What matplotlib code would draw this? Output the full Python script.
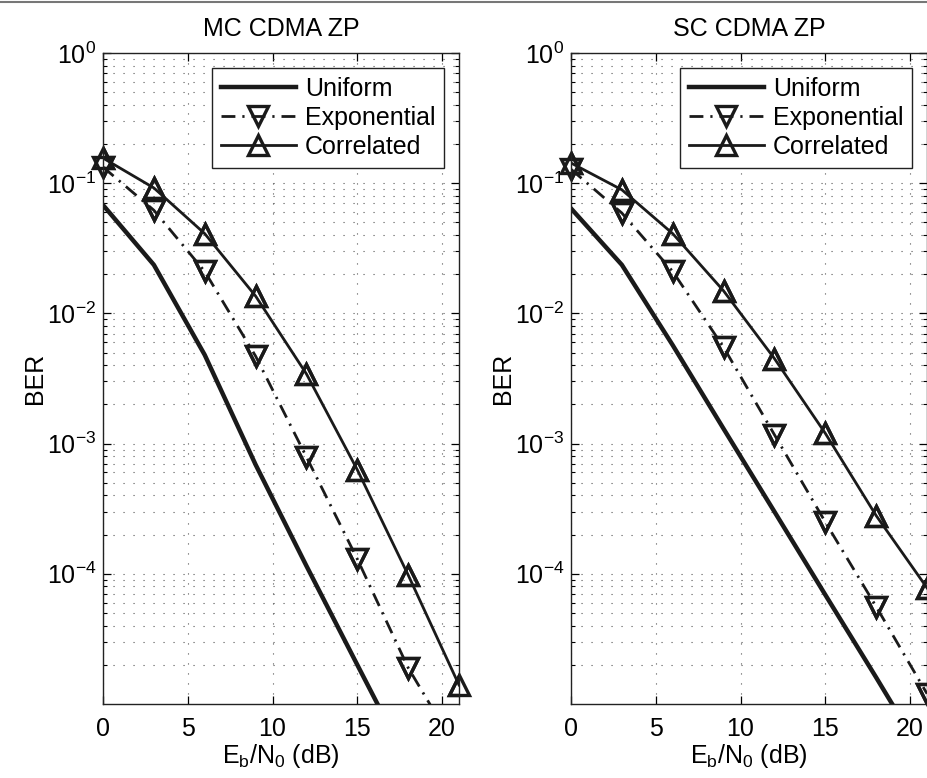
import matplotlib
matplotlib.use("Agg")
import matplotlib.pyplot as plt
import numpy as np
from matplotlib.lines import Line2D

# ================= Data =================
EBN0 = np.array([0, 3, 6, 9, 12, 15, 18, 21])

# MC CDMA ZP
mc_uniform = [0.068, 0.0236, 0.0048, 6.9e-4, 1.15e-4, 2.0e-5, 3.5e-6, 6e-7]
mc_exponential = [0.133, 0.062, 0.021, 0.0047, 7.9e-4, 1.3e-4, 1.9e-5, 4.2e-6]
mc_correlated = [0.156, 0.092, 0.041, 0.0136, 0.00343, 6.3e-4, 9.8e-5, 1.4e-5]

# SC CDMA ZP
sc_uniform = [0.064, 0.0236, 0.0057, 0.0013, 3.0e-4, 6.9e-5, 1.6e-5, 3.6e-6]
sc_exponential = [0.128, 0.059, 0.021, 0.0055, 0.00117, 2.5e-4, 5.6e-5, 1.2e-5]
sc_correlated = [0.143, 0.089, 0.041, 0.0149, 0.0045, 0.0012, 2.8e-4, 7.8e-5]

TITLES = ["MC CDMA ZP", "SC CDMA ZP"]
LABELS = ["Uniform", "Exponential", "Correlated"]
XTICKS = [0, 5, 10, 15, 20]
YTICKS = [1e-4, 1e-3, 1e-2, 1e-1, 1e0]
YLIM = (1e-5, 1)
XLIM = (0, 21)
# ===============================================

plt.rcParams['font.family'] = ['Liberation Sans', 'DejaVu Sans']
plt.rcParams['mathtext.fontset'] = 'custom'
plt.rcParams['mathtext.rm'] = 'Liberation Sans'
FS = 18

STYLES = [
    dict(color='#1a1a1a', lw=3.2, ls='-', marker=None),
    dict(color='#1a1a1a', lw=2.0, ls=(0, (5, 2.5, 0.8, 2.5)), marker='v'),
    dict(color='#1a1a1a', lw=2.0, ls='-', marker='^'),
]


def draw_panel(ax, series, title):
    for values, label, st in zip(series, LABELS, STYLES):
        y = np.array(values)
        ax.plot(EBN0, y, color=st['color'], lw=st['lw'], ls=st['ls'],
                marker=st['marker'], ms=14, mew=2.4, mfc='none', label=label)
        if st['marker'] is not None:
            # MATLAB style: markers inside the y-range are drawn whole
            keep = (y >= YLIM[0]) & (y <= YLIM[1])
            ax.plot(EBN0[keep], y[keep], ls='none', marker=st['marker'], ms=14,
                    mew=2.4, mfc='none', color=st['color'], clip_on=False)

    ax.set_yscale('log')
    ax.set_xlim(*XLIM)
    ax.set_ylim(*YLIM)
    ax.set_xticks(XTICKS)
    ax.set_xticklabels([str(t) for t in XTICKS], fontsize=FS)
    ax.set_yticks(YTICKS)
    ax.set_yticklabels([r'$\mathregular{10^{%d}}$' % int(np.log10(t)) for t in YTICKS], fontsize=FS)
    ax.yaxis.set_minor_locator(matplotlib.ticker.LogLocator(base=10, subs=np.arange(2, 10)))
    ax.yaxis.set_minor_formatter(matplotlib.ticker.NullFormatter())

    ax.tick_params(which='both', direction='in', top=True, right=True)
    ax.tick_params(which='major', length=6, width=0.9)
    ax.tick_params(which='minor', length=3, width=0.8)
    ax.tick_params(axis='x', pad=9)
    ax.tick_params(axis='y', pad=5)

    ax.grid(True, which='major', axis='x', ls=(0, (1, 8)), color='#555555', lw=0.8)
    ax.grid(True, which='both', axis='y', ls=(0, (1, 8)), color='#555555', lw=0.8)

    for sp in ax.spines.values():
        sp.set_linewidth(1.0)
        sp.set_color('#222222')

    ax.set_title(title, fontsize=FS, pad=12)
    ax.set_ylabel("BER", fontsize=FS, labelpad=0)
    ax.set_xlabel(r'E$_\mathregular{b}$/N$_\mathregular{0}$ (dB)', fontsize=FS, labelpad=1)

    leg = ax.legend(loc='upper right', fontsize=FS, handlelength=3.0,
                    handletextpad=0.35, labelspacing=0.2, borderpad=0.35,
                    borderaxespad=0.6, fancybox=False, framealpha=1)
    leg.get_frame().set_edgecolor('#222222')
    leg.get_frame().set_linewidth(1.0)


fig = plt.figure(figsize=(9.28, 7.78), dpi=100)
ax1 = fig.add_axes([103 / 928, 74 / 778, 356 / 928, 651 / 778])
ax2 = fig.add_axes([571 / 928, 74 / 778, 356 / 928, 651 / 778])

draw_panel(ax1, [mc_uniform, mc_exponential, mc_correlated], TITLES[0])
draw_panel(ax2, [sc_uniform, sc_exponential, sc_correlated], TITLES[1])

# thin grey border at top of page
fig.add_artist(Line2D([0, 1], [0.998, 0.998], color='#777777', lw=1.5, transform=fig.transFigure))

fig.savefig("out.png", dpi=100)
